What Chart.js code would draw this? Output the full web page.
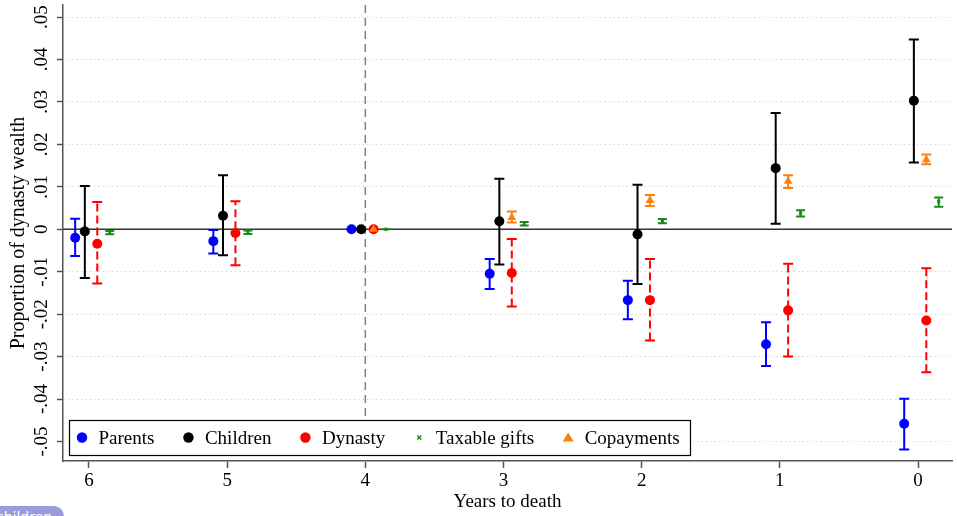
<!DOCTYPE html>
<html lang="en">
<head>
<meta charset="UTF-8" />
<title>Proportion of dynasty wealth by years to death</title>
<script src="https://cdn.jsdelivr.net/npm/chart.js"></script>
<style>
  html, body { margin: 0; padding: 0; background: #fff; overflow: hidden; }
  .wrap { position: relative; width: 957px; height: 516px; }
  .badge {
    position: absolute; left: -18px; top: 506px;
    background: #9c9cdc; color: #fff;
    font: 14px "DejaVu Sans", sans-serif;
    padding: 3px 12px 3px 14px; border-radius: 10px;
  }
</style>
</head>
<body>
<div class="wrap">
  <canvas id="chart"></canvas>
  <div class="badge">children</div>
</div>
<script>
// years before death (x axis categories)
const years = [6, 5, 4, 3, 2, 1, 0];
const eventYear = 4;

// point estimates and confidence bounds
const parents   = [-0.0020, -0.0028, 0, -0.0105, -0.0167, -0.0271, -0.0458];
const parentsLo = [-0.0063, -0.0057, 0, -0.0141, -0.0212, -0.0322, -0.0519];
const parentsHi = [ 0.0025, -0.0002, 0, -0.0070, -0.0121, -0.0219, -0.0399];

const children   = [-0.0005, 0.0032, 0, 0.0019, -0.0012, 0.0144, 0.0303];
const childrenLo = [-0.0115, -0.0061, 0, -0.0083, -0.0129, 0.0013, 0.0157];
const childrenHi = [ 0.0102, 0.0127, 0, 0.0119, 0.0105, 0.0274, 0.0447];

const dynasty   = [-0.0034, -0.0009, 0, -0.0103, -0.0167, -0.0191, -0.0215];
const dynastyLo = [-0.0128, -0.0085, 0, -0.0182, -0.0262, -0.0300, -0.0337];
const dynastyHi = [ 0.0064, 0.0066, 0, -0.0023, -0.0070, -0.0081, -0.0092];

const taxable   = [-0.0008, -0.0007, 0, 0.0013, 0.0019, 0.0038, 0.0065];
const taxableLo = [-0.0012, -0.0011, 0, 0.0009, 0.0014, 0.0030, 0.0053];
const taxableHi = [-0.0004, -0.0003, 0, 0.0017, 0.0024, 0.0045, 0.0075];

const copay   = [null, null, 0, 0.0028, 0.0068, 0.0113, 0.0164];
const copayLo = [null, null, 0, 0.0016, 0.0055, 0.0097, 0.0153];
const copayHi = [null, null, 0, 0.0042, 0.0081, 0.0127, 0.0176];

const yTicks = [-0.05, -0.04, -0.03, -0.02, -0.01, 0, 0.01, 0.02, 0.03, 0.04, 0.05];

const FONT = "'Liberation Serif', 'Times New Roman', serif";

function points(vals, lo, hi, shift) {
  const out = [];
  years.forEach((yr, i) => {
    if (vals[i] == null) return;
    out.push({ x: yr + shift, y: vals[i], lo: lo[i], hi: hi[i] });
  });
  return out;
}

function fmt(v) {
  if (Math.abs(v) < 1e-9) return '0';
  return (v < 0 ? '-' : '') + '.0' + Math.round(Math.abs(v) * 100);
}

const series = [
  { label: 'Parents', vals: parents, lo: parentsLo, hi: parentsHi, shift: 0.10, color: '#0000ff', style: 'circle', r: 5, cap: 5, order: 5 },
  { label: 'Children', vals: children, lo: childrenLo, hi: childrenHi, shift: 0.03, color: '#000000', style: 'circle', r: 5, cap: 5, order: 4 },
  { label: 'Dynasty', vals: dynasty, lo: dynastyLo, hi: dynastyHi, shift: -0.06, color: '#ff0000', style: 'circle', r: 5, cap: 5, dash: [8, 4], order: 3 },
  { label: 'Taxable gifts', vals: taxable, lo: taxableLo, hi: taxableHi, shift: -0.15, color: '#1a8a1a', style: 'crossRot', r: 2, cap: 4.5, order: 2 },
  { label: 'Copayments', vals: copay, lo: copayLo, hi: copayHi, shift: -0.06, color: '#ff7f0e', style: 'triangle', r: 5, cap: 5, order: 1 }
];

const decorations = {
  id: 'decorations',
  beforeDatasetsDraw(chart) {
    const { ctx, chartArea: a, scales: { x, y } } = chart;
    ctx.save();
    // zero line
    const y0 = y.getPixelForValue(0);
    ctx.strokeStyle = '#333';
    ctx.lineWidth = 1.5;
    ctx.beginPath(); ctx.moveTo(a.left, y0); ctx.lineTo(a.right, y0); ctx.stroke();
    // reference year
    const xe = x.getPixelForValue(eventYear);
    ctx.strokeStyle = '#808080';
    ctx.setLineDash([8, 5]);
    ctx.beginPath(); ctx.moveTo(xe, a.top); ctx.lineTo(xe, a.bottom); ctx.stroke();
    ctx.setLineDash([]);

    // confidence intervals
    chart.data.datasets.forEach(ds => {
      ctx.strokeStyle = ds.borderColor;
      ctx.lineWidth = 2;
      ds.data.forEach(p => {
        if (p.lo == null || p.hi == null) return;
        const px = x.getPixelForValue(p.x);
        const pl = y.getPixelForValue(p.lo);
        const ph = y.getPixelForValue(p.hi);
        ctx.setLineDash(ds.whiskerDash || []);
        ctx.beginPath(); ctx.moveTo(px, pl); ctx.lineTo(px, ph); ctx.stroke();
        ctx.setLineDash([]);
        ctx.beginPath();
        ctx.moveTo(px - ds.capHalf, pl); ctx.lineTo(px + ds.capHalf, pl);
        ctx.moveTo(px - ds.capHalf, ph); ctx.lineTo(px + ds.capHalf, ph);
        ctx.stroke();
      });
    });
    ctx.restore();
  },
  afterDraw(chart) {
    const { ctx, scales: { y } } = chart;
    ctx.save();
    // rotated y tick labels
    ctx.font = '19px ' + FONT;
    ctx.fillStyle = '#000';
    ctx.textAlign = 'center';
    ctx.textBaseline = 'alphabetic';
    y.ticks.forEach(t => {
      const py = y.getPixelForValue(t.value);
      ctx.save();
      ctx.translate(47, py);
      ctx.rotate(-Math.PI / 2);
      ctx.fillText(fmt(t.value), 0, 0);
      ctx.restore();
    });

    // legend box
    const box = { left: 69, top: 420, right: 690, bottom: 455 };
    ctx.fillStyle = '#fff';
    ctx.fillRect(box.left, box.top, box.right - box.left, box.bottom - box.top);
    ctx.strokeStyle = '#000';
    ctx.lineWidth = 1.2;
    ctx.strokeRect(box.left + 0.5, box.top + 0.5, box.right - box.left, box.bottom - box.top);

    const my = 437.5;
    let mx = 82;
    ctx.textAlign = 'left';
    chart.data.datasets.forEach(ds => {
      ctx.fillStyle = ds.borderColor;
      ctx.strokeStyle = ds.borderColor;
      if (ds.pointStyle === 'circle') {
        ctx.beginPath(); ctx.arc(mx, my, 5.2, 0, Math.PI * 2); ctx.fill();
      } else if (ds.pointStyle === 'triangle') {
        ctx.beginPath();
        ctx.moveTo(mx, my - 5); ctx.lineTo(mx + 5.5, my + 4); ctx.lineTo(mx - 5.5, my + 4);
        ctx.closePath(); ctx.fill();
      } else {
        ctx.lineWidth = 1.5;
        ctx.beginPath();
        ctx.moveTo(mx - 2, my - 2); ctx.lineTo(mx + 2, my + 2);
        ctx.moveTo(mx + 2, my - 2); ctx.lineTo(mx - 2, my + 2);
        ctx.stroke();
      }
      ctx.fillStyle = '#000';
      const tx = mx + 16.5;
      ctx.fillText(ds.label, tx, 444);
      mx = tx + ctx.measureText(ds.label).width + 34;
    });
    ctx.restore();
  }
};

new Chart(document.getElementById('chart'), {
  type: 'scatter',
  data: {
    datasets: series.map(s => ({
      label: s.label,
      data: points(s.vals, s.lo, s.hi, s.shift),
      backgroundColor: s.color,
      borderColor: s.color,
      pointStyle: s.style,
      pointRadius: s.r,
      pointHoverRadius: s.r,
      pointBorderWidth: s.style === 'crossRot' ? 1.5 : 0,
      capHalf: s.cap,
      whiskerDash: s.dash,
      order: s.order
    }))
  },
  options: {
    responsive: true,
    maintainAspectRatio: false,
    animation: false,
    layout: { padding: { top: 5, right: 5, left: 0, bottom: 0 } },
    plugins: { legend: { display: false }, tooltip: { enabled: false } },
    scales: {
      x: {
        type: 'linear',
        reverse: true,
        min: -0.246,
        max: 6.188,
        afterFit: s => { s.height = 55; },
        ticks: {
          stepSize: 1,
          includeBounds: false,
          padding: 2,
          color: '#000',
          font: { family: FONT, size: 19 },
          callback: v => String(v)
        },
        grid: { drawOnChartArea: false, tickLength: 7, tickColor: '#555', tickWidth: 1.5 },
        border: { color: '#555', width: 1.5 },
        title: {
          display: true,
          text: 'Years to death',
          color: '#000',
          font: { family: FONT, size: 19 },
          padding: { top: 0, bottom: 3 }
        }
      },
      y: {
        min: -0.05459,
        max: 0.05283,
        afterFit: s => { s.width = 63; },
        afterBuildTicks: s => { s.ticks = yTicks.map(v => ({ value: v })); },
        ticks: { display: false },
        grid: {
          color: c => (c.tick && Math.abs(c.tick.value) < 1e-9) ? 'rgba(0,0,0,0)' : '#cfcfcf',
          lineWidth: 1,
          tickLength: 6,
          tickColor: '#555',
          tickWidth: 1.5
        },
        border: { color: '#555', width: 1.5, dash: [1.2, 3.2] },
        title: {
          display: true,
          text: 'Proportion of dynasty wealth',
          color: '#000',
          font: { family: FONT, size: 20 },
          padding: { top: 7, bottom: 0 }
        }
      }
    }
  },
  plugins: [decorations]
});
</script>
</body>
</html>
